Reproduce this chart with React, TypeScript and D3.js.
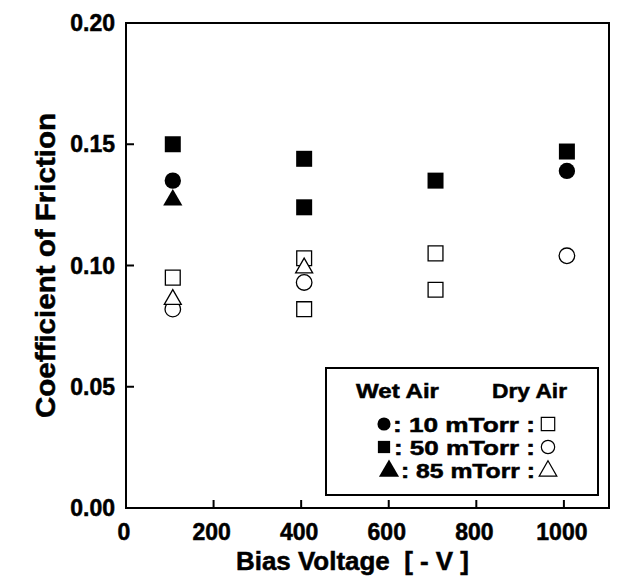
import React, { useEffect, useRef } from "react";
import * as d3 from "d3";

// bias voltage [-V] / coefficient of friction
const wet10x = [100, 1000];
const wet10y = [0.135, 0.139];
const wet50x = [100, 400, 400, 700, 1000];
const wet50y = [0.150, 0.144, 0.124, 0.135, 0.147];
const wet85x = [100];
const wet85y = [0.127];
const dry10x = [100, 400, 400, 700, 700];
const dry10y = [0.095, 0.103, 0.082, 0.105, 0.090];
const dry50x = [100, 400, 1000];
const dry50y = [0.082, 0.093, 0.104];
const dry85x = [100, 400];
const dry85y = [0.086, 0.099];

const xTicks = [0, 200, 400, 600, 800, 1000];
const yTicks = [0.0, 0.05, 0.1, 0.15, 0.2];
const legendRows = ["10 mTorr", "50 mTorr", "85 mTorr"];

const W = 619;
const H = 583;
const FONT = "'Liberation Sans', Arial, sans-serif";

export default function App() {
  const ref = useRef<SVGSVGElement>(null);

  useEffect(() => {
    const svg = d3.select(ref.current);
    svg.selectAll("*").remove();

    const margin = { top: 23, right: 10, bottom: 75, left: 126 };
    const xMax = 1103;
    const x = d3.scaleLinear().domain([0, xMax]).range([margin.left, W - margin.right]);
    const y = d3.scaleLinear().domain([0, 0.2]).range([H - margin.bottom, margin.top]);

    const g = svg.append("g");

    const bold = (sel: any, size: number) =>
      sel
        .attr("font-family", FONT)
        .attr("font-weight", "bold")
        .attr("font-size", size)
        .attr("stroke", "#000")
        .attr("stroke-width", 0.5);

    // frame
    g.append("rect")
      .attr("x", x(0))
      .attr("y", y(0.2))
      .attr("width", x(xMax) - x(0))
      .attr("height", y(0) - y(0.2))
      .attr("fill", "none")
      .attr("stroke", "#000")
      .attr("stroke-width", 2);

    // x ticks (inward)
    g.append("g")
      .selectAll("line")
      .data(xTicks.filter(d => d > 0))
      .enter()
      .append("line")
      .attr("x1", d => x(d))
      .attr("x2", d => x(d))
      .attr("y1", y(0))
      .attr("y2", y(0) - 8)
      .attr("stroke", "#000")
      .attr("stroke-width", 2);

    bold(
      g.append("g")
        .selectAll("text")
        .data(xTicks)
        .enter()
        .append("text")
        .attr("x", d => x(d) - 2)
        .attr("y", y(0) + 32)
        .attr("text-anchor", "middle")
        .text(d => d),
      23
    );

    // y ticks (inward)
    g.append("g")
      .selectAll("line")
      .data(yTicks.filter(d => d > 0 && d < 0.2))
      .enter()
      .append("line")
      .attr("x1", x(0))
      .attr("x2", x(0) + 8)
      .attr("y1", d => y(d))
      .attr("y2", d => y(d))
      .attr("stroke", "#000")
      .attr("stroke-width", 2);

    bold(
      g.append("g")
        .selectAll("text")
        .data(yTicks)
        .enter()
        .append("text")
        .attr("x", x(0) - 11)
        .attr("y", d => y(d) + 8)
        .attr("text-anchor", "end")
        .text(d => d3.format(".2f")(d)),
      23
    );

    // axis titles
    bold(
      g.append("text")
        .attr("x", 236)
        .attr("y", 570)
        .attr("textLength", 233)
        .attr("lengthAdjust", "spacingAndGlyphs")
        .attr("xml:space", "preserve")
        .text("Bias Voltage  [ - V ]"),
      26
    );

    bold(
      g.append("text")
        .attr("transform", `translate(55, 418) rotate(-90)`)
        .attr("textLength", 305)
        .attr("lengthAdjust", "spacingAndGlyphs")
        .text("Coefficient of Friction"),
      28
    );

    const sq = d3.symbol().type(d3.symbolSquare).size(256);
    const ci = d3.symbol().type(d3.symbolCircle).size(210);
    const tr = d3.symbol().type(d3.symbolTriangle).size(160);
    const sqO = d3.symbol().type(d3.symbolSquare).size(220);
    const ciO = d3.symbol().type(d3.symbolCircle).size(190);
    const trO = d3.symbol().type(d3.symbolTriangle).size(125);

    const series = [
      { xs: dry10x, ys: dry10y, path: sqO, filled: false },
      { xs: dry50x, ys: dry50y, path: ciO, filled: false },
      { xs: dry85x, ys: dry85y, path: trO, filled: false },
      { xs: wet10x, ys: wet10y, path: ci, filled: true },
      { xs: wet50x, ys: wet50y, path: sq, filled: true },
      { xs: wet85x, ys: wet85y, path: tr, filled: true },
    ];

    series.forEach(s => {
      g.append("g")
        .selectAll("path")
        .data(s.xs.map((v, i) => [v, s.ys[i]]))
        .enter()
        .append("path")
        .attr("d", s.path() as string)
        .attr("transform", d => `translate(${x(d[0]) + 3},${y(d[1])})`)
        .attr("fill", s.filled ? "#000" : "#fff")
        .attr("stroke", "#000")
        .attr("stroke-width", s.filled ? 0 : 1.3);
    });

    // legend
    const lg = g.append("g");
    lg.append("rect")
      .attr("x", 326)
      .attr("y", 368)
      .attr("width", 272)
      .attr("height", 127)
      .attr("fill", "#fff")
      .attr("stroke", "#000")
      .attr("stroke-width", 2);

    const txt = (tx: number, ty: number, s: string, len: number) =>
      bold(
        lg.append("text")
          .attr("x", tx)
          .attr("y", ty)
          .attr("textLength", len)
          .attr("lengthAdjust", "spacingAndGlyphs")
          .text(s),
        20
      );

    txt(356, 398, "Wet Air", 83);
    txt(492, 398, "Dry Air", 75);

    const rowY = [424, 447, 470];
    const wetShapes = [d3.symbolCircle, d3.symbolSquare, d3.symbolTriangle];
    const wetSizes = [135, 150, 175];
    const dryShapes = [d3.symbolSquare, d3.symbolCircle, d3.symbolTriangle];
    const drySizes = [180, 140, 135];
    const textStart = [393, 394, 401];
    legendRows.forEach((r, i) => {
      lg.append("path")
        .attr("d", d3.symbol().type(wetShapes[i]).size(wetSizes[i])() as string)
        .attr("transform", `translate(${i === 2 ? 389 : 384},${rowY[i] + (i === 2 ? 1 : 0)})`)
        .attr("fill", "#000");
      txt(textStart[i], rowY[i] + 8, `: ${r} :`, 535 - textStart[i]);
      lg.append("path")
        .attr("d", d3.symbol().type(dryShapes[i]).size(drySizes[i])() as string)
        .attr("transform", `translate(548,${rowY[i] + (i === 2 ? 1 : 0)})`)
        .attr("fill", "#fff")
        .attr("stroke", "#000")
        .attr("stroke-width", 1.2);
    });
  }, []);

  return (
    <svg
      ref={ref}
      width={W}
      height={H}
      style={{ position: "absolute", left: 0, top: 0, background: "#fff" }}
    />
  );
}
